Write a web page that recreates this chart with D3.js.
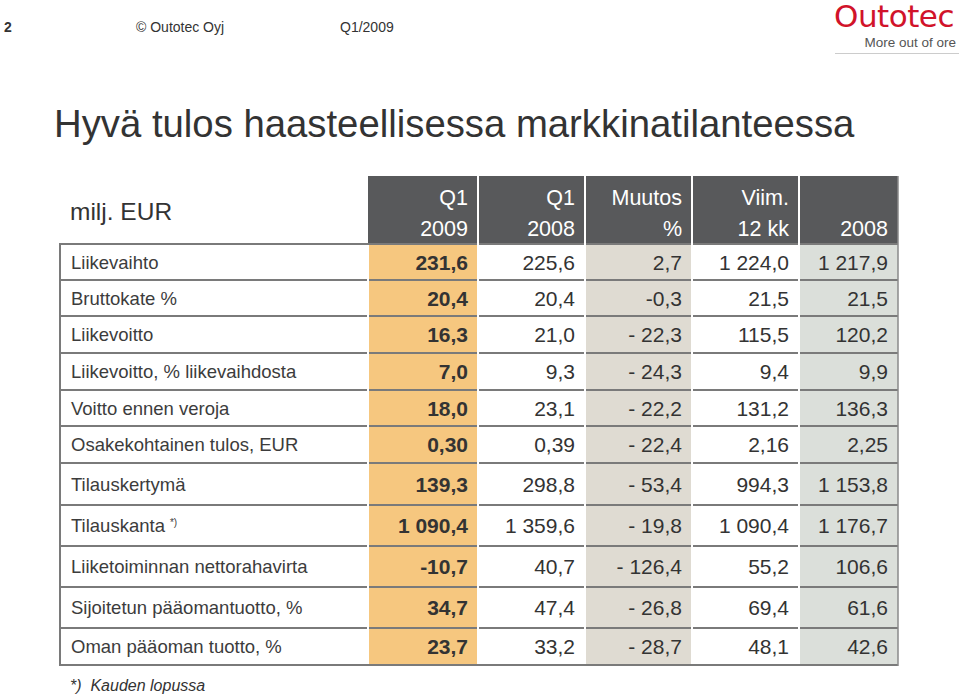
<!DOCTYPE html>
<html>
<head>
<meta charset="utf-8" />
<title>Hyvä tulos haasteellisessa markkinatilanteessa</title>
<style>
  body { margin: 0; background: #fff; }
  svg { display: block; font-family: "Liberation Sans", Arial, sans-serif; }
</style>
</head>
<body>
<script src="https://d3js.org/d3.v7.min.js"></script>
<script>
// table data
var rowLabels = ["Liikevaihto", "Bruttokate %", "Liikevoitto", "Liikevoitto, % liikevaihdosta",
    "Voitto ennen veroja", "Osakekohtainen tulos, EUR", "Tilauskertymä", "Tilauskanta",
    "Liiketoiminnan nettorahavirta", "Sijoitetun pääomantuotto, %", "Oman pääoman tuotto, %"];
var colHeads = [["Q1", "2009"], ["Q1", "2008"], ["Muutos", "%"], ["Viim.", "12 kk"], ["", "2008"]];
var q1_2009 = ["231,6", "20,4", "16,3", "7,0", "18,0", "0,30", "139,3", "1 090,4", "-10,7", "34,7", "23,7"];
var q1_2008 = ["225,6", "20,4", "21,0", "9,3", "23,1", "0,39", "298,8", "1 359,6", "40,7", "47,4", "33,2"];
var muutos  = ["2,7", "-0,3", "- 22,3", "- 24,3", "- 22,2", "- 22,4", "- 53,4", "- 19,8", "- 126,4", "- 26,8", "- 28,7"];
var viim12  = ["1 224,0", "21,5", "115,5", "9,4", "131,2", "2,16", "994,3", "1 090,4", "55,2", "69,4", "48,1"];
var y2008   = ["1 217,9", "21,5", "120,2", "9,9", "136,3", "2,25", "1 153,8", "1 176,7", "106,6", "61,6", "42,6"];
var columns = [q1_2009, q1_2008, muutos, viim12, y2008];

// layout
var W = 959, H = 694;
var tableLeft = 60, dataLeft = 368;
var headTop = 176, bodyTop = 244;
var colWidths = [110, 107, 107, 107, 99];
var rowHeights = [36, 36, 37, 37, 36, 37, 42, 41, 41, 41, 37];
var colFill = ["#f6c77f", "#ffffff", "#dfdbd2", "#ffffff", "#dbdfda"];

var svg = d3.select("body").append("svg")
    .attr("width", W)
    .attr("height", H);

// top strip
svg.append("text").attr("x", 4).attr("y", 32).attr("font-size", 14).attr("font-weight", "bold")
    .attr("fill", "#333").text("2");
svg.append("text").attr("x", 136).attr("y", 32).attr("font-size", 14).attr("fill", "#333").text("© Outotec Oyj");
svg.append("text").attr("x", 340).attr("y", 32).attr("font-size", 14).attr("fill", "#333").text("Q1/2009");

svg.append("text").attr("x", 834).attr("y", 27).attr("font-size", 31).attr("fill", "#d1132a")
    .attr("font-family", "'DejaVu Sans', sans-serif").attr("letter-spacing", -0.5).text("Outotec");
svg.append("text").attr("x", 956).attr("y", 47).attr("font-size", 13.5).attr("fill", "#555")
    .attr("text-anchor", "end").attr("font-family", "'Liberation Sans', sans-serif").text("More out of ore");
svg.append("line").attr("x1", 835).attr("x2", W).attr("y1", 53.5).attr("y2", 53.5)
    .attr("stroke", "#ccc").attr("stroke-width", 1);

// title
svg.append("text").attr("x", 54).attr("y", 137).attr("font-size", 38.3).attr("fill", "#333")
    .text("Hyvä tulos haasteellisessa markkinatilanteessa");

// scales
var colLefts = [dataLeft];
colWidths.forEach(function(w, i) { colLefts.push(colLefts[i] + w); });
var tableRight = colLefts[colLefts.length - 1];
var x = d3.scaleOrdinal().domain(d3.range(columns.length)).range(colLefts.slice(0, -1));
var rowTops = [bodyTop];
rowHeights.forEach(function(h, i) { rowTops.push(rowTops[i] + h); });
var y = d3.scaleOrdinal().domain(d3.range(rowLabels.length)).range(rowTops.slice(0, -1));
var bodyBottom = rowTops[rowTops.length - 1];

// header
svg.append("rect").attr("x", dataLeft).attr("y", headTop)
    .attr("width", tableRight - dataLeft).attr("height", bodyTop - headTop).attr("fill", "#58595b");
svg.append("text").attr("x", 70).attr("y", 220).attr("font-size", 24.5).attr("fill", "#333").text("milj. EUR");

var head = svg.append("g").selectAll("g").data(colHeads).enter().append("g");
head.append("text")
    .attr("x", function(d, i) { return x(i) + colWidths[i] - 10; })
    .attr("y", 205).attr("text-anchor", "end").attr("font-size", 21.5).attr("fill", "#fff")
    .text(function(d) { return d[0]; });
head.append("text")
    .attr("x", function(d, i) { return x(i) + colWidths[i] - 10; })
    .attr("y", 236).attr("text-anchor", "end").attr("font-size", 21.5).attr("fill", "#fff")
    .text(function(d) { return d[1]; });

// column backgrounds
svg.append("g").selectAll("rect").data(columns).enter().append("rect")
    .attr("x", function(d, i) { return x(i); })
    .attr("y", bodyTop)
    .attr("width", function(d, i) { return colWidths[i]; })
    .attr("height", bodyBottom - bodyTop)
    .attr("fill", function(d, i) { return colFill[i]; });

// row lines
svg.append("g").selectAll("line").data(rowTops).enter().append("line")
    .attr("x1", tableLeft).attr("x2", tableRight)
    .attr("y1", function(d) { return d; }).attr("y2", function(d) { return d; })
    .attr("stroke", "#7a7a7a").attr("stroke-width", 2);

// white column gaps
svg.append("g").selectAll("line").data(d3.range(1, columns.length)).enter().append("line")
    .attr("x1", function(d) { return x(d); }).attr("x2", function(d) { return x(d); })
    .attr("y1", headTop).attr("y2", bodyBottom - 1)
    .attr("stroke", "#fff").attr("stroke-width", 2);
svg.append("line").attr("x1", dataLeft).attr("x2", dataLeft).attr("y1", bodyTop + 1).attr("y2", bodyBottom - 1)
    .attr("stroke", "#fff").attr("stroke-width", 2);

// outer borders
svg.append("line").attr("x1", tableLeft).attr("x2", tableLeft).attr("y1", bodyTop - 1).attr("y2", bodyBottom + 1)
    .attr("stroke", "#7a7a7a").attr("stroke-width", 2);
svg.append("line").attr("x1", tableRight).attr("x2", tableRight).attr("y1", headTop).attr("y2", bodyBottom + 1)
    .attr("stroke", "#8a8a8a").attr("stroke-width", 1.5);

// row labels
var labels = svg.append("g").selectAll("text").data(rowLabels).enter().append("text")
    .attr("x", 71)
    .attr("y", function(d, i) { return y(i) + rowHeights[i] / 2 + 6.5; })
    .attr("font-size", 18.5).attr("fill", "#3c3c3c")
    .text(function(d) { return d; });
labels.filter(function(d) { return d === "Tilauskanta"; }).append("tspan")
    .attr("dx", 5).attr("dy", -6).attr("font-size", 10).text("*)");

// values
columns.forEach(function(vals, c) {
    svg.append("g").selectAll("text").data(vals).enter().append("text")
        .attr("x", x(c) + colWidths[c] - 10)
        .attr("y", function(d, i) { return y(i) + rowHeights[i] / 2 + 7.5; })
        .attr("text-anchor", "end")
        .attr("font-size", 21)
        .attr("font-weight", c === 0 ? "bold" : "normal")
        .attr("fill", "#333")
        .text(function(d) { return d; });
});

// footnote
svg.append("text").attr("x", 70).attr("y", 691).attr("font-size", 16).attr("font-style", "italic")
    .attr("fill", "#333").attr("xml:space", "preserve").text("*)  Kauden lopussa");
</script>
</body>
</html>
